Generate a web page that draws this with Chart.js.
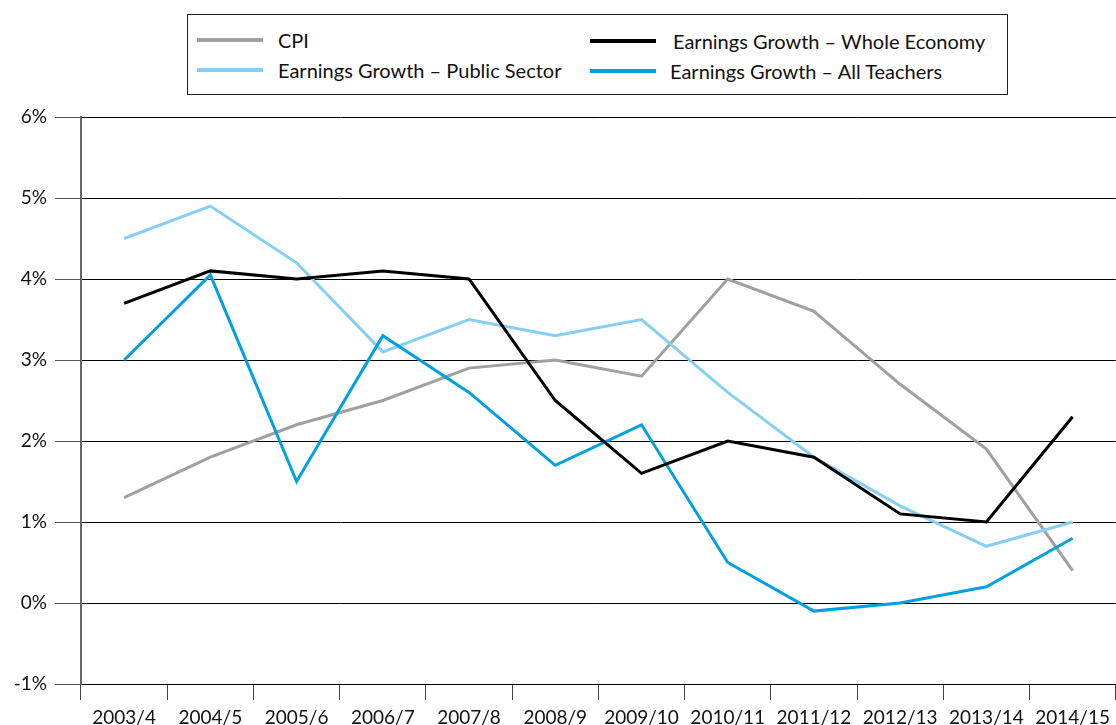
<!DOCTYPE html>
<html>
<head>
<meta charset="utf-8">
<script src="https://cdn.jsdelivr.net/npm/chart.js@4"></script>
<style>
  html, body { margin: 0; padding: 0; background: #fff; }
  #wrap { position: relative; width: 1116px; height: 725px; }
  #c { position: absolute; left: 0; top: 0; }
  #legend {
    position: absolute; left: 187px; top: 14px; width: 819px; height: 79px;
    border: 1px solid #222; background: #fff;
    font-family: Lato, "Noto Sans", sans-serif; font-size: 20px; color: #111;
  }
  .item { position: absolute; height: 24px; line-height: 24px; white-space: nowrap; }
  .item .sw { position: absolute; left: 0; top: 10px; width: 66px; height: 4px; }
  .item .tx { position: absolute; top: 0; }
</style>
</head>
<body>
<div id="wrap">
  <canvas id="c" width="1116" height="725"></canvas>
  <div id="legend"></div>
</div>
<script>
const categories = ["2003/4","2004/5","2005/6","2006/7","2007/8","2008/9","2009/10","2010/11","2011/12","2012/13","2013/14","2014/15"];
const cpi            = [1.3, 1.8, 2.2, 2.5, 2.9, 3.0, 2.8, 4.0, 3.6, 2.7, 1.9, 0.4];
const wholeEconomy   = [3.7, 4.1, 4.0, 4.1, 4.0, 2.5, 1.6, 2.0, 1.8, 1.1, 1.0, 2.3];
const publicSector   = [4.5, 4.9, 4.2, 3.1, 3.5, 3.3, 3.5, 2.6, 1.8, 1.2, 0.7, 1.0];
const allTeachers    = [3.0, 4.05, 1.5, 3.3, 2.6, 1.7, 2.2, 0.5, -0.1, 0.0, 0.2, 0.8];
const seriesNames = ["CPI", "Earnings Growth – Whole Economy", "Earnings Growth – Public Sector", "Earnings Growth – All Teachers"];
const seriesColors = ["#a0a0a0", "#000000", "#87cef5", "#00a0e1"];
const yMin = -1, yMax = 6, yStep = 1;

const FONT = 'Lato, "Noto Sans", sans-serif';

const datasets = [
  { label: seriesNames[0], data: cpi, borderColor: seriesColors[0], order: 4 },
  { label: seriesNames[2], data: publicSector, borderColor: seriesColors[2], order: 3 },
  { label: seriesNames[3], data: allTeachers, borderColor: seriesColors[3], order: 2 },
  { label: seriesNames[1], data: wholeEconomy, borderColor: seriesColors[1], order: 1 }
].map(d => Object.assign(d, { borderWidth: 3, pointRadius: 0, tension: 0, fill: false }));

new Chart(document.getElementById('c'), {
  type: 'line',
  data: { labels: categories, datasets },
  options: {
    responsive: false,
    animation: false,
    layout: { padding: { top: 117, right: 0, bottom: 0, left: 0 } },
    plugins: { legend: { display: false }, tooltip: { enabled: false } },
    scales: {
      x: {
        offset: true,
        grid: { display: true, drawOnChartArea: false, drawTicks: true, tickLength: 16, tickColor: '#444', offset: true },
        border: { display: true, color: '#000', width: 1 },
        ticks: { font: { family: FONT, size: 19 }, color: '#111', padding: 6, maxRotation: 0, autoSkip: false },
        afterFit: s => { s.height = 41; }
      },
      y: {
        min: yMin, max: yMax,
        grid: { color: '#000', lineWidth: 1, tickLength: 26, tickColor: '#555' },
        border: { display: true, color: '#666', width: 2 },
        ticks: { stepSize: yStep, font: { family: FONT, size: 19 }, color: '#111', padding: 8,
                 callback: v => v + '%' },
        afterFit: s => { s.width = 81; }
      }
    }
  }
});

// HTML legend
const legend = document.getElementById('legend');
const layout = [
  { i: 0, x: 9,   y: 13 },
  { i: 1, x: 402, y: 14 },
  { i: 2, x: 9,   y: 43 },
  { i: 3, x: 402, y: 44 }
];
const textOffsets = [81, 83, 81, 80];
layout.forEach(p => {
  const it = document.createElement('div');
  it.className = 'item';
  it.style.left = p.x + 'px';
  it.style.top = p.y + 'px';
  const sw = document.createElement('div');
  sw.className = 'sw';
  sw.style.background = seriesColors[p.i];
  const tx = document.createElement('span');
  tx.className = 'tx';
  tx.style.left = textOffsets[p.i] + 'px';
  tx.textContent = seriesNames[p.i];
  it.appendChild(sw); it.appendChild(tx);
  legend.appendChild(it);
});
</script>
</body>
</html>
